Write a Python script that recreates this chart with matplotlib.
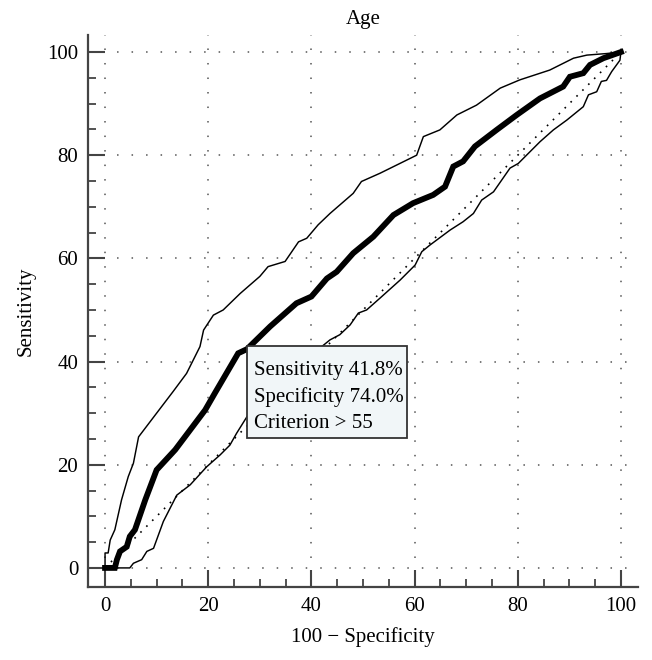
import matplotlib
matplotlib.use("Agg")
import matplotlib.pyplot as plt
from matplotlib.patches import Rectangle
from matplotlib.ticker import MultipleLocator

plt.rcParams['font.family'] = ['Liberation Serif', 'DejaVu Serif']

# ROC curve (100 - specificity, sensitivity)
roc_x = [0, 1.9, 2.3, 2.9, 4.2, 4.8, 5.8, 7.8, 10, 13.6, 19.4, 21.3, 25.8, 27.5,
         32, 37.1, 40.0, 43, 44.9, 48.1, 52, 55.9, 59.7, 63.6, 65.9, 67.5, 69.4,
         71.7, 75.9, 79.8, 84.3, 88.8, 90.1, 92.7, 94, 96.6, 100]
roc_y = [0, 0, 1.6, 3.2, 4.1, 6.1, 7.4, 13.2, 19, 22.9, 30.6, 33.9, 41.6, 42.4,
         46.8, 51.3, 52.6, 56.1, 57.4, 61, 64.2, 68.4, 70.7, 72.3, 73.9, 77.8, 78.8,
         81.7, 84.9, 87.8, 91, 93.3, 95.2, 95.9, 97.5, 98.8, 100]

# Upper confidence bound
upper_x = [0, 0, 0.6, 1, 1.9, 3.2, 4.5, 5.5, 6.5, 10, 13.2, 15.8, 18.4, 19.1, 21,
           22.9, 26.2, 30, 31.6, 34.9, 37.5, 39.1, 41.3, 43.6, 48.1, 49.7, 53.3,
           60.4, 61.7, 64.9, 68.2, 72, 76.6, 80.4, 86.2, 90.8, 93.4, 97.2, 100]
upper_y = [0, 2.9, 2.9, 5.4, 7.4, 13.2, 17.7, 20.3, 25.4, 30, 34.2, 37.7, 42.9, 46.1, 49,
           50, 53.2, 56.5, 58.4, 59.4, 63.2, 63.9, 66.5, 68.7, 72.6, 74.9, 76.5,
           80, 83.6, 84.9, 87.8, 89.7, 93, 94.6, 96.5, 98.8, 99.4, 99.7, 100]

# Lower confidence bound
lower_x = [0, 4.8, 5.5, 7.1, 8.1, 9.4, 11.3, 13.9, 16.5, 19.7, 22.3, 24.2, 25.5, 27.5,
           32, 37, 42, 43.6, 45.5, 47.5, 49.1, 50.7, 53.3, 57.2, 60.1, 61.4, 63,
           66.9, 69.4, 71.4, 73, 75.3, 78.5, 80.1, 84.3, 86.9, 89.5, 92.7, 93.7,
           95.3, 96.2, 97.2, 98.2, 99.8, 100]
lower_y = [0, 0, 0.9, 1.6, 3.2, 3.8, 9.0, 14.1, 16.1, 19.6, 21.9, 23.8, 26.1, 29.3,
           34, 39, 42.9, 44.2, 45.2, 47.1, 49.4, 50, 52.3, 55.8, 58.7, 61.3, 62.6,
           65.5, 67.1, 68.7, 71.3, 72.9, 77.5, 78.4, 82.6, 84.9, 86.8, 89.4, 91.7,
           92.3, 94.3, 94.5, 96.2, 98.4, 100]

diag = [0, 100]
ticks = [0, 20, 40, 60, 80, 100]
box_lines = ["Sensitivity 41.8%", "Specificity 74.0%", "Criterion > 55"]

fig = plt.figure(figsize=(6.52, 6.60), dpi=100)
ax = fig.add_axes([0.135, 0.1106, 0.8435, 0.8364])

grid_kw = dict(color='#555555', lw=1.1, ls=(0, (1, 8.5)), zorder=1)
for t in ticks:
    ax.axvline(t, **grid_kw)
    ax.axhline(t, **grid_kw)

ax.plot(diag, diag, color='black', lw=1.2, ls=(0, (1, 4)), zorder=2)
ax.plot(upper_x, upper_y, color='black', lw=1.05, zorder=3)
ax.plot(lower_x, lower_y, color='black', lw=1.05, zorder=3)
ax.plot(roc_x, roc_y, color='black', lw=4.2, zorder=4, solid_joinstyle='miter')

# annotation box
ax.add_patch(Rectangle((27.46, 25.2), 31.0, 17.8, fc='#f1f6f8', ec='#333333',
                       lw=1.3, zorder=5))
for i, line in enumerate(box_lines):
    ax.text(28.9, 37.4 - 5.15 * i, line, fontsize=15, ha='left', va='baseline',
            zorder=6)

ax.set_xlim(-3.3, 103.3)
ax.set_ylim(-3.7, 103.3)
for s in ['top', 'right']:
    ax.spines[s].set_visible(False)
for s in ['left', 'bottom']:
    ax.spines[s].set_color('#444444')
    ax.spines[s].set_linewidth(1.6)

ax.set_xticks(ticks)
ax.set_yticks(ticks)
ax.xaxis.set_minor_locator(MultipleLocator(5))
ax.yaxis.set_minor_locator(MultipleLocator(5))
ax.tick_params(which='major', direction='in', length=12.5, width=1.5, color='#444444',
               labelsize=15, pad=7)
ax.tick_params(which='minor', direction='in', length=6, width=1.3, color='#444444')

ax.set_xlabel("100 − Specificity", fontsize=15, labelpad=8)
ax.set_ylabel("Sensitivity", fontsize=15, labelpad=8)
ax.set_title("Age", fontsize=15, pad=8)

fig.savefig("out.png", dpi=100)
